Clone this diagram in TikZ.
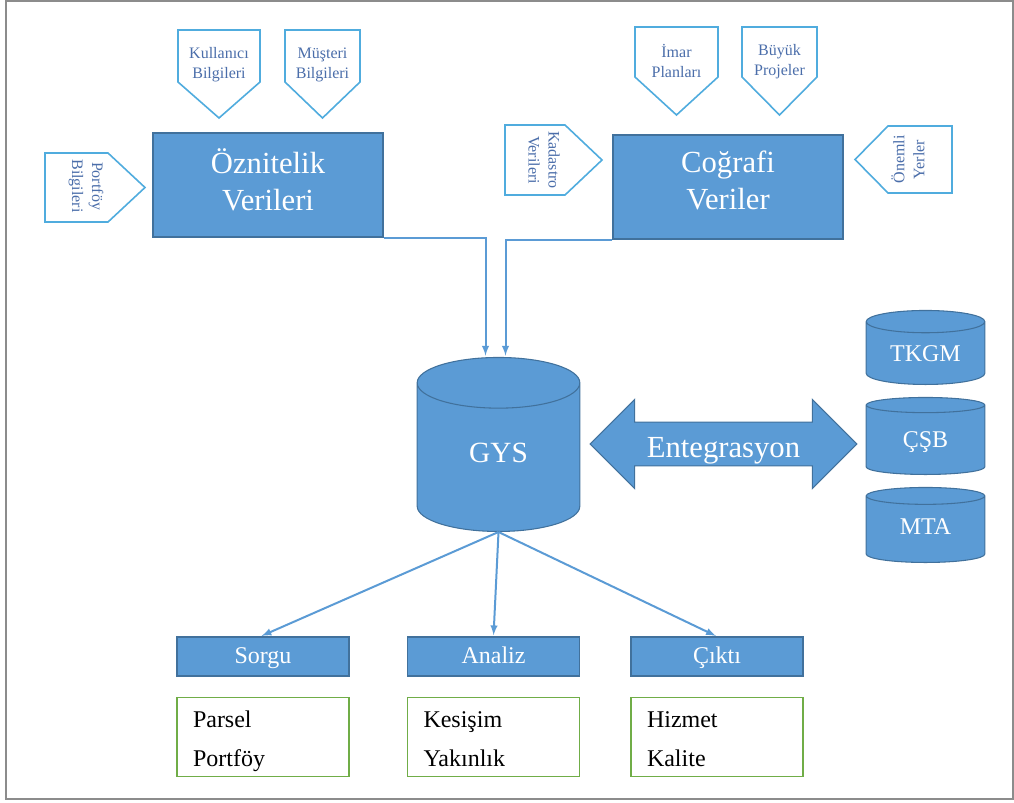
\documentclass[tikz,border=0pt]{standalone}
\usepackage{fontspec}
\setmainfont{Liberation Serif}
\usetikzlibrary{positioning,shapes.geometric,shapes.arrows}
\definecolor{kutumavi}{RGB}{91,155,213}
\definecolor{kenarmavi}{RGB}{65,113,156}
\definecolor{cizgiyesil}{RGB}{112,173,71}
\definecolor{etiketmavi}{RGB}{80,172,222}
\definecolor{yazimavi}{RGB}{75,110,170}
\definecolor{cerceve}{RGB}{140,140,140}

\begin{document}
\begin{tikzpicture}[-latex, x=0.75pt, y=-0.75pt, semithick,
        veri/.style ={rectangle, draw=kenarmavi, fill=kutumavi, text=white, line width=0.8pt,
            minimum width=172.5pt, minimum height=78pt, align=center, font=\fontsize{23}{27.75}\selectfont},
        etiket/.style ={text=yazimavi, align=center, inner sep=1pt, font=\fontsize{12}{15}\selectfont},
        etiketcizgi/.style ={-, draw=etiketmavi, fill=white, line width=1.2pt, line join=miter},
        vt/.style ={cylinder, shape border rotate=90, draw=kenarmavi, fill=kutumavi, text=white,
            line width=0.8pt, minimum width=89pt, aspect=0.28, anchor=south, text depth=3pt,
            font=\fontsize{18}{20}\selectfont},
        islem/.style ={rectangle, draw=kenarmavi, fill=kutumavi, text=white, line width=0.8pt,
            minimum width=129pt, minimum height=29.25pt, text height=12pt, text depth=1pt,
            font=\fontsize{18}{20}\selectfont},
        liste/.style ={rectangle, draw=cizgiyesil, line width=0.9pt, text width=105pt, inner xsep=12pt,
            minimum height=58.5pt, text height=19pt, text depth=33.25pt, align=left,
            font=\fontsize{18}{29.25}\selectfont},
        bag/.style ={draw=kutumavi, line width=1.5pt, shorten >=1pt}]

    \useasboundingbox (0,0) rectangle (1014,803);
    \draw[-, cerceve, line width=1.5pt] (6,1) rectangle (1013,799);

    % ana veri kutulari
    \node[veri, text depth=7.5pt] (oz) at (268, 185) {Öznitelik\\Verileri};
    \node[veri, text depth=10.5pt] (co) at (728, 187) {Coğrafi\\Veriler};

    % etiketler (besgen cerceveler)
    \draw[etiketcizgi] (178, 30) -- (260, 30) -- (260, 82) -- (219, 118) -- (178, 82) -- cycle;
    \draw[etiketcizgi] (285, 30) -- (360, 30) -- (360, 82) -- (322.5, 118) -- (285, 82) -- cycle;
    \draw[etiketcizgi] (635, 27) -- (718, 27) -- (718, 77) -- (676.5, 115) -- (635, 77) -- cycle;
    \draw[etiketcizgi] (742, 27) -- (817, 27) -- (817, 77) -- (779.5, 115) -- (742, 77) -- cycle;
    \draw[etiketcizgi] (45, 153) -- (108, 153) -- (145, 187.5) -- (108, 222) -- (45, 222) -- cycle;
    \draw[etiketcizgi] (505, 125) -- (565, 125) -- (602, 160) -- (565, 195) -- (505, 195) -- cycle;
    \draw[etiketcizgi] (952, 126) -- (888, 126) -- (855, 159.5) -- (888, 193) -- (952, 193) -- cycle;

    \node[etiket] (kul) at (219, 65) {Kullanıcı\\Bilgileri};
    \node[etiket] (mus) at (322.5, 65) {Müşteri\\Bilgileri};
    \node[etiket] (imar) at (676.5, 61) {İmar\\Planları};
    \node[etiket] (buyuk) at (779.5, 62) {Büyük\\Projeler};
    \node[etiket, rotate=-90] (port) at (86, 186) {Portföy\\Bilgileri};
    \node[etiket, rotate=-90] (kad) at (544, 160) {Kadastro\\Verileri};
    \node[etiket, rotate=90] (onem) at (908, 159.5) {Önemli\\Yerler};

    % veritabanlari
    \node[vt, minimum width=122pt, minimum height=130.5pt, aspect=0.75, text depth=13pt,
        font=\fontsize{22}{24}\selectfont] (gys) at (498.5, 532) {GYS};
    \node[vt, minimum height=55.5pt] (tkgm) at (925.5, 385) {TKGM};
    \node[vt, minimum height=57.75pt] (csb) at (925.5, 475) {ÇŞB};
    \node[vt, minimum height=56.25pt, text depth=7pt] (mta) at (925.5, 563) {MTA};

    \node[double arrow, draw=kenarmavi, fill=kutumavi, text=white, line width=0.8pt,
        double arrow head extend=17pt, double arrow tip angle=90, minimum height=200pt,
        text height=20pt, text depth=0pt, inner ysep=6pt,
        font=\fontsize{23}{24}\selectfont] (ent) at (723.5, 444) {Entegrasyon};

    % islemler
    \node[islem] (sorgu) at (263, 656.5) {Sorgu};
    \node[islem] (analiz) at (493.5, 656.5) {Analiz};
    \node[islem] (cikti) at (717, 656.5) {Çıktı};

    \node[liste] (l1) at (263, 737) {Parsel\\Portföy};
    \node[liste] (l2) at (493.5, 737) {Kesişim\\Yakınlık};
    \node[liste] (l3) at (717, 737) {Hizmet\\Kalite};

    \draw[bag] (oz.south east) -| ([xshift=-9.75pt]gys.north);
    \draw[bag] (co.south west) -| ([xshift=5.25pt]gys.north);

    \path (gys.south) edge[bag] ([xshift=-2pt]sorgu.north);
    \path (gys.south) edge[bag] (analiz.north);
    \path (gys.south) edge[bag] (cikti.north);
\end{tikzpicture}
\end{document}
